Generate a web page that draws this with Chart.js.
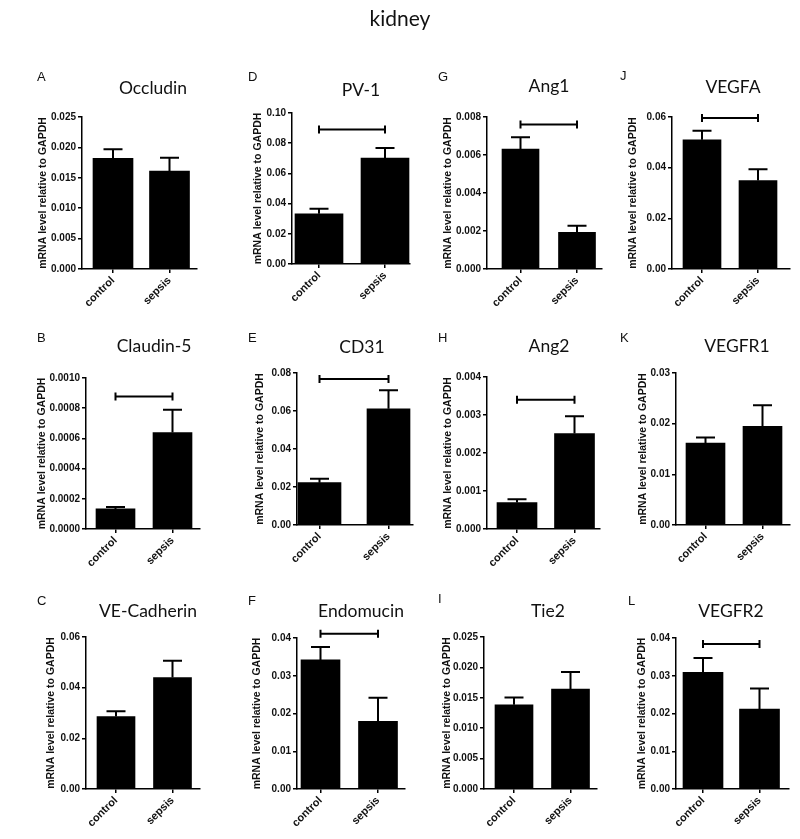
<!DOCTYPE html>
<html>
<head>
<meta charset="utf-8">
<script src="https://cdn.jsdelivr.net/npm/chart.js@4.4.1/dist/chart.umd.min.js"></script>
<style>
  html, body { margin: 0; padding: 0; background: #fff; }
  #fig { position: relative; width: 800px; height: 839px; overflow: hidden; }
  #fig canvas { position: absolute; }
  #fig svg { position: absolute; left: 0; top: 0; }
</style>
</head>
<body>
<div id="fig"></div>
<script>
// ---- data (panels A..L) ----
const categories = ['control', 'sepsis'];
const letters = ['A', 'B', 'C', 'D', 'E', 'F', 'G', 'H', 'I', 'J', 'K', 'L'];
const genes = ['Occludin', 'Claudin-5', 'VE-Cadherin', 'PV-1', 'CD31', 'Endomucin',
               'Ang1', 'Ang2', 'Tie2', 'VEGFA', 'VEGFR1', 'VEGFR2'];
const controlMean = [0.0182, 0.000133, 0.0286, 0.0333, 0.0223, 0.0342, 0.00631, 0.000695, 0.01385, 0.0510, 0.01615, 0.0309];
const controlSem  = [0.0015, 0.000013, 0.0021, 0.0033, 0.0020, 0.0034, 0.00063, 0.000085, 0.0012, 0.0036, 0.0011, 0.0038];
const sepsisMean  = [0.0161, 0.000639, 0.0440, 0.0702, 0.0612, 0.0179, 0.00193, 0.00251, 0.01643, 0.0349, 0.01945, 0.02115];
const sepsisSem   = [0.0022, 0.00015, 0.0066, 0.0066, 0.0097, 0.0063, 0.00034, 0.00046, 0.0028, 0.0045, 0.0042, 0.0055];
const yMax        = [0.025, 0.0010, 0.06, 0.10, 0.08, 0.04, 0.008, 0.004, 0.025, 0.06, 0.03, 0.04];
const yStep       = [0.005, 0.0002, 0.02, 0.02, 0.02, 0.01, 0.002, 0.001, 0.005, 0.02, 0.01, 0.01];
const yDecimals   = [3, 4, 2, 2, 2, 2, 3, 3, 3, 2, 2, 2];
const bracketAt   = [null, 0.000878, null, 0.089, 0.0768, 0.0411, 0.0076, 0.0034, null, 0.0596, null, 0.0384];
const yTitle = 'mRNA level relative to GAPDH';
const figTitle = 'kidney';

// ---- panel geometry, page pixels ----
// L/R: x-axis extent, top/bot: y-axis extent, c1/c2: bar centres, bw: bar width,
// labelX: centre of the rotated y title, t: gene title baseline, l: letter baseline
const geo = [
  { L: 82,  R: 197, top: 117, bot: 269, c1: 113,   c2: 169.5, bw: 40, labelX: 43,  t: [153, 94],   l: [37, 81] },
  { L: 86,  R: 200, top: 378, bot: 529, c1: 115.5, c2: 172.5, bw: 39, labelX: 42,  t: [154, 352],  l: [37, 342] },
  { L: 86,  R: 200, top: 637, bot: 789, c1: 116,   c2: 172.5, bw: 38, labelX: 51,  t: [148, 617],  l: [37, 605] },
  { L: 292, R: 410, top: 113, bot: 264, c1: 319,   c2: 385,   bw: 48, labelX: 258, t: [361, 96],   l: [248, 81] },
  { L: 297, R: 413, top: 373, bot: 525, c1: 319.5, c2: 388.5, bw: 43, labelX: 260, t: [362, 353],  l: [248, 342] },
  { L: 297, R: 405, top: 638, bot: 789, c1: 320.5, c2: 378,   bw: 39, labelX: 257, t: [361, 617],  l: [248, 605] },
  { L: 487, R: 602, top: 117, bot: 269, c1: 520.5, c2: 577,   bw: 37, labelX: 448, t: [549, 92],   l: [438, 81] },
  { L: 487, R: 600, top: 377, bot: 529, c1: 517,   c2: 574.5, bw: 40, labelX: 448, t: [549, 352],  l: [438, 342] },
  { L: 484, R: 597, top: 637, bot: 789, c1: 514,   c2: 570.5, bw: 38, labelX: 447, t: [548, 617],  l: [438, 603] },
  { L: 672, R: 790, top: 117, bot: 269, c1: 702,   c2: 758,   bw: 38, labelX: 633, t: [733, 93],   l: [620, 80] },
  { L: 676, R: 790, top: 373, bot: 525, c1: 705.5, c2: 762.5, bw: 39, labelX: 643, t: [737, 352],  l: [620, 342] },
  { L: 676, R: 789, top: 638, bot: 789, c1: 703,   c2: 759.5, bw: 40, labelX: 642, t: [731, 617],  l: [628, 605] }
];

Chart.defaults.font.family = '"Liberation Sans", Arial, sans-serif';
Chart.defaults.color = '#111';

// error bars (upward only) and significance bracket
const errorBars = {
  id: 'errorBars',
  afterDatasetsDraw(chart, args, opts) {
    const { ctx } = chart;
    const y = chart.scales.y;
    const bars = chart.getDatasetMeta(0).data;
    ctx.save();
    ctx.strokeStyle = '#000';
    ctx.lineWidth = 2;
    bars.forEach((bar, i) => {
      const yTop = y.getPixelForValue(opts.mean[i] + opts.sem[i]);
      ctx.beginPath();
      ctx.moveTo(bar.x, bar.y);
      ctx.lineTo(bar.x, yTop);
      ctx.moveTo(bar.x - 9.5, yTop);
      ctx.lineTo(bar.x + 9.5, yTop);
      ctx.stroke();
    });
    if (opts.bracket != null) {
      const yb = y.getPixelForValue(opts.bracket);
      const x1 = bars[0].x, x2 = bars[1].x;
      ctx.beginPath();
      ctx.moveTo(x1, yb); ctx.lineTo(x2, yb);
      ctx.moveTo(x1, yb - 4); ctx.lineTo(x1, yb + 4);
      ctx.moveTo(x2, yb - 4); ctx.lineTo(x2, yb + 4);
      ctx.stroke();
    }
    ctx.restore();
  }
};

const fig = document.getElementById('fig');
const padTop = 14, padRight = 4, xHeight = 55;

geo.forEach((g, i) => {
  const yw = (g.L - g.labelX) + 6;
  const canvas = document.createElement('canvas');
  canvas.width = yw + (g.R - g.L) + padRight;
  canvas.height = padTop + (g.bot - g.top) + xHeight;
  canvas.style.left = (g.L - yw) + 'px';
  canvas.style.top = (g.top - padTop) + 'px';
  fig.appendChild(canvas);

  const span = g.c2 - g.c1;
  const xMin = -(g.c1 - g.L) / span;
  const xMax = xMin + (g.R - g.L) / span;
  const nTicks = Math.round(yMax[i] / yStep[i]);

  new Chart(canvas, {
    type: 'bar',
    data: {
      datasets: [{
        data: [{ x: 0, y: controlMean[i] }, { x: 1, y: sepsisMean[i] }],
        backgroundColor: '#000',
        borderWidth: 0,
        barThickness: g.bw
      }]
    },
    options: {
      responsive: false,
      animation: false,
      devicePixelRatio: 1,
      layout: { padding: { top: padTop, right: padRight, left: 0, bottom: 0 } },
      plugins: {
        legend: { display: false },
        tooltip: { enabled: false },
        errorBars: {
          mean: [controlMean[i], sepsisMean[i]],
          sem: [controlSem[i], sepsisSem[i]],
          bracket: bracketAt[i]
        }
      },
      scales: {
        x: {
          type: 'linear',
          offset: false,
          min: xMin,
          max: xMax,
          afterBuildTicks: s => { s.ticks = [{ value: 0 }, { value: 1 }]; },
          afterFit: s => { s.height = xHeight; s.paddingLeft = 0; s.paddingRight = 0; },
          ticks: {
            minRotation: 45,
            maxRotation: 45,
            padding: 1,
            font: { size: 11, weight: 'bold' },
            color: '#111',
            callback: v => categories[v]
          },
          grid: { offset: false, drawOnChartArea: false, drawTicks: true, tickLength: 4, color: '#000', lineWidth: 1.5 },
          border: { display: true, color: '#000', width: 1.5 }
        },
        y: {
          min: 0,
          max: yMax[i],
          afterBuildTicks: s => {
            s.ticks = [];
            for (let k = 0; k <= nTicks; k++) s.ticks.push({ value: +(k * yStep[i]).toFixed(6) });
          },
          afterFit: s => { s.width = yw; s.paddingTop = 0; s.paddingBottom = 0; },
          ticks: {
            padding: 2,
            font: { size: 10, weight: 'bold' },
            color: '#111',
            callback: v => v.toFixed(yDecimals[i])
          },
          title: {
            display: true,
            text: yTitle,
            padding: 0,
            color: '#111',
            font: { size: 10.5, weight: 'bold' }
          },
          grid: { drawOnChartArea: false, drawTicks: true, tickLength: 4, color: '#000', lineWidth: 1.5 },
          border: { display: true, color: '#000', width: 1.5 }
        }
      }
    },
    plugins: [errorBars]
  });
});

// titles and panel letters as real text
const NS = 'http://www.w3.org/2000/svg';
const svg = document.createElementNS(NS, 'svg');
svg.setAttribute('width', 800);
svg.setAttribute('height', 839);
function addText(str, x, y, size, family, anchor) {
  const t = document.createElementNS(NS, 'text');
  t.setAttribute('x', x);
  t.setAttribute('y', y);
  t.setAttribute('font-size', size);
  t.setAttribute('font-family', family);
  t.setAttribute('text-anchor', anchor);
  t.setAttribute('fill', '#111');
  t.textContent = str;
  svg.appendChild(t);
}
addText(figTitle, 400, 26, 21, 'Lato, sans-serif', 'middle');
geo.forEach((g, i) => {
  addText(genes[i], g.t[0], g.t[1], 17.5, 'Lato, sans-serif', 'middle');
  addText(letters[i], g.l[0], g.l[1], 13, '"Liberation Sans", Arial, sans-serif', 'start');
});
fig.appendChild(svg);
</script>
</body>
</html>
